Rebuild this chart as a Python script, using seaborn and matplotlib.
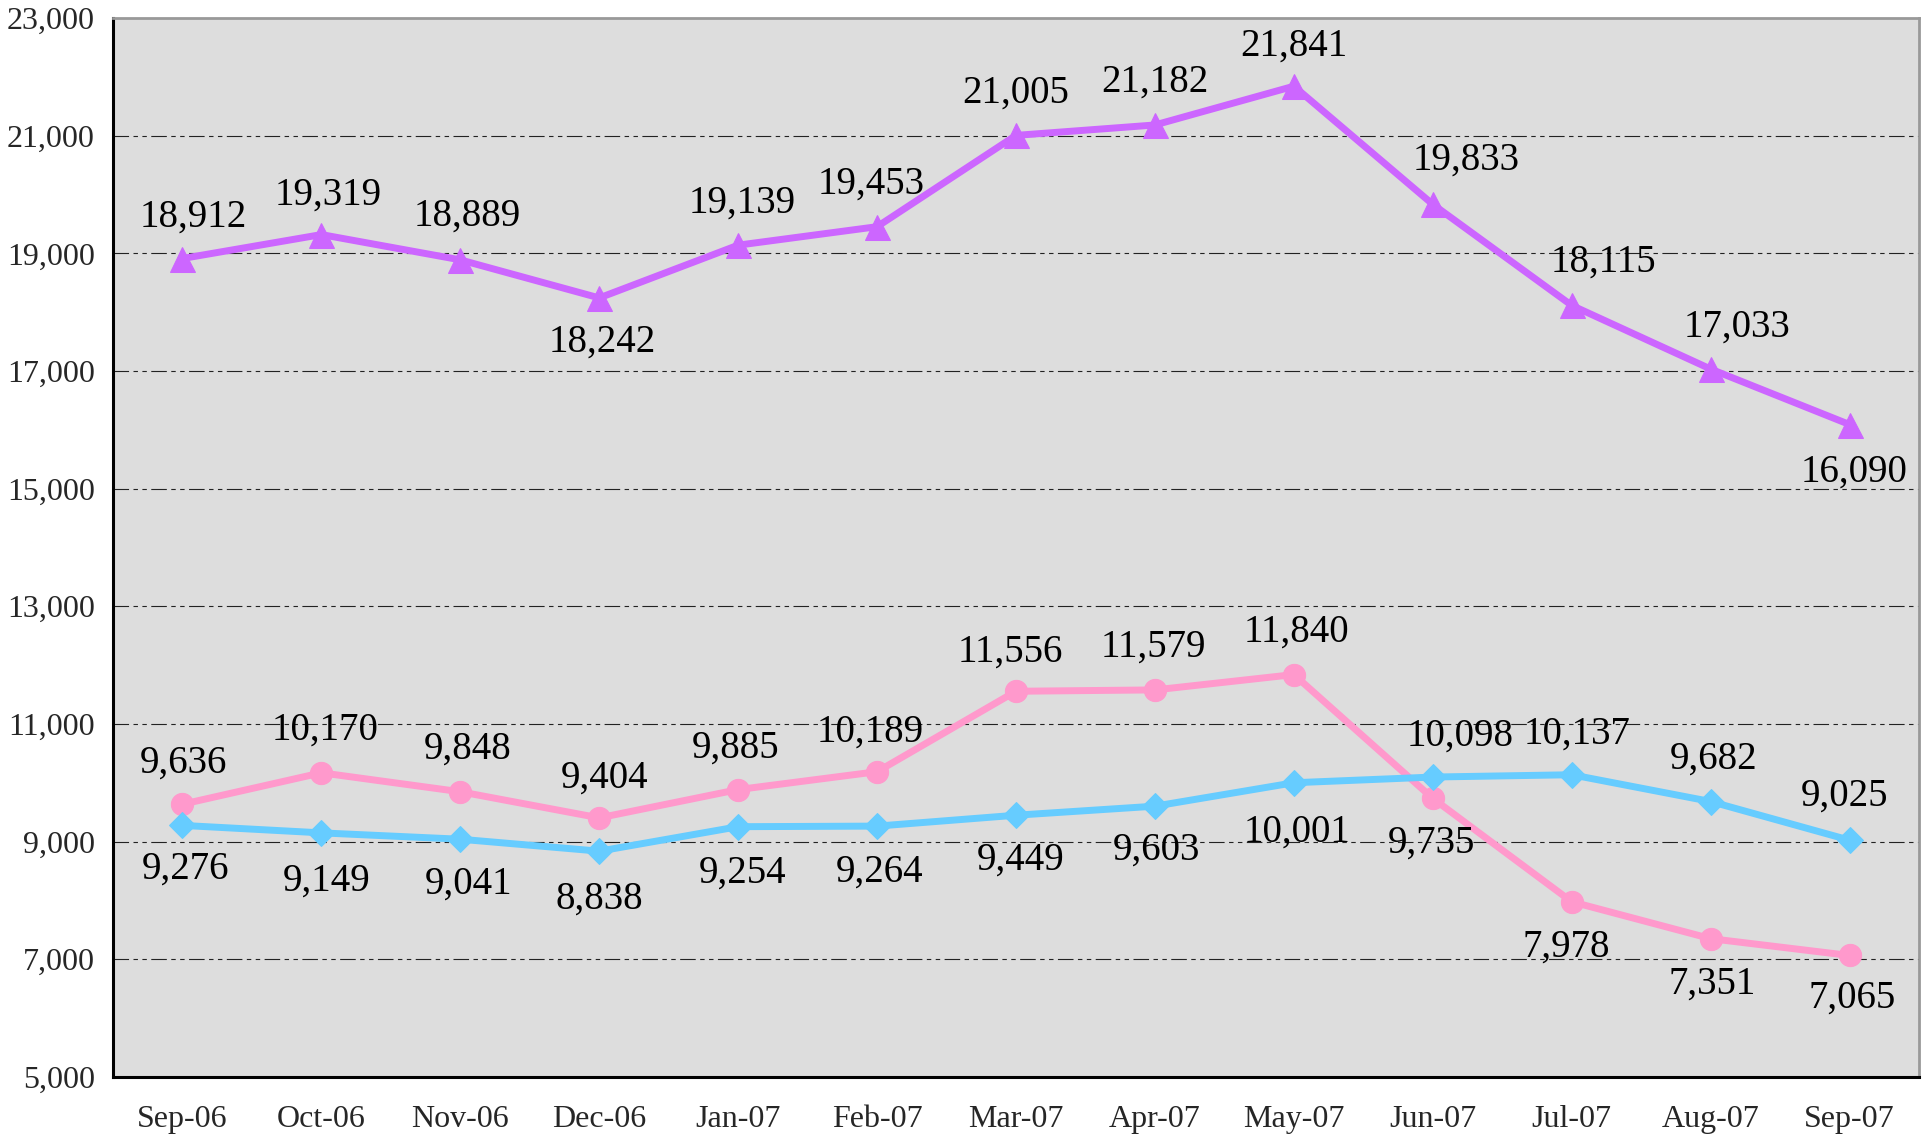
import numpy as np
import pandas as pd
import seaborn as sns
import matplotlib.pyplot as plt

months = ["Sep-06", "Oct-06", "Nov-06", "Dec-06", "Jan-07", "Feb-07", "Mar-07",
          "Apr-07", "May-07", "Jun-07", "Jul-07", "Aug-07", "Sep-07"]
purple_vals = [18912, 19319, 18889, 18242, 19139, 19453, 21005, 21182, 21841,
               19833, 18115, 17033, 16090]
pink_vals = [9636, 10170, 9848, 9404, 9885, 10189, 11556, 11579, 11840,
             9735, 7978, 7351, 7065]
blue_vals = [9276, 9149, 9041, 8838, 9254, 9264, 9449, 9603, 10001,
             10098, 10137, 9682, 9025]
y_ticks = [5000, 7000, 9000, 11000, 13000, 15000, 17000, 19000, 21000, 23000]

sns.set_style("white")
plt.rcParams['font.family'] = ['Liberation Serif', 'DejaVu Serif']

fig = plt.figure(figsize=(19.25, 11.4), dpi=100)
ax = fig.add_axes([0.0587, 0.0553, 0.9382, 0.9289])
ax.set_facecolor("#dddddd")

x = np.arange(len(months))

# label offsets in points (dx, dy)
purple_off = [(8, 33), (5, 32), (5, 35), (2, -28), (3, 34), (-4, 34), (0, 34),
              (0, 34), (0, 32), (24, 35), (23, 35), (19, 34), (3, -31)]
pink_off = [(1, 33), (3, 34), (5, 34), (4, 32), (-2, 33), (-5, 32), (-4, 32),
            (-1, 34), (2, 34), (-1, -29), (-4, -29), (1, -29), (2, -27)]
blue_off = [(2, -28), (4, -31), (6, -29), (0, -31), (3, -30), (2, -30), (3, -29),
            (1, -28), (2, -32), (20, 33), (4, 33), (2, 34), (-4, 35)]

series = [
    (purple_vals, "#cc66ff", "^", 18, purple_off),
    (pink_vals, "#ff99cc", "o", 16, pink_off),
    (blue_vals, "#66ccff", "D", 13, blue_off),
]

for vals, col, mk, ms, offs in series:
    sns.lineplot(x=x, y=vals, color=col, marker=mk, markersize=ms,
                 markeredgecolor=col, linewidth=5, ax=ax, zorder=3)
    for xi, v, (dx, dy) in zip(x, vals, offs):
        ax.annotate(f"{v:,}", (xi, v), xytext=(dx, dy - 3.5), textcoords="offset points",
                    ha="center", va="center", fontsize=28, color="black", zorder=4)

ax.set_xlim(-0.5, len(months) - 0.5)
ax.set_ylim(5000, 23000)
ax.set_yticks(y_ticks)
ax.set_yticklabels([f"{t:,}" for t in y_ticks], fontsize=23)

ax.set_xticks(np.arange(-0.5, len(months), 1.0))
ax.set_xticklabels([])
ax.set_xticks(x, minor=True)
ax.set_xticklabels(months, minor=True, fontsize=23)
ax.tick_params(axis="x", which="minor", length=0, pad=20)
ax.tick_params(axis="x", which="major", length=8, width=2, direction="out", color="black")
ax.tick_params(axis="y", length=8, width=2, direction="out", color="black", pad=5)

for yv in y_ticks[1:-1]:
    ax.axhline(yv, color="#222222", linewidth=0.8,
               linestyle=(0, (14, 4, 4, 4, 4, 4)), zorder=1)

for s in ["left", "bottom"]:
    ax.spines[s].set_color("black")
    ax.spines[s].set_linewidth(2.2)
for s in ["top", "right"]:
    ax.spines[s].set_color("#999999")
    ax.spines[s].set_linewidth(2)

ax.set_xlabel("")
ax.set_ylabel("")

plt.savefig("out.png", dpi=100)
